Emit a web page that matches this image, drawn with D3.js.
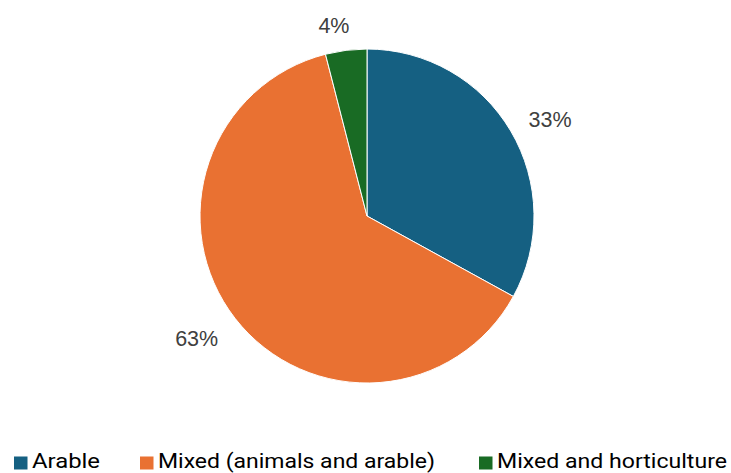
<!DOCTYPE html>
<html>
<head>
<meta charset="utf-8">
<script src="https://cdn.jsdelivr.net/npm/d3@7"></script>
<style>
  html, body { margin: 0; padding: 0; background: #fff; }
  svg { display: block; }
</style>
</head>
<body>
<svg id="chart" width="731" height="473"></svg>
<script>
const categories = ["Arable", "Mixed (animals and arable)", "Mixed and horticulture"];
const values = [33, 63, 4];
const labels = ["33%", "63%", "4%"];
const colors = ["#156082", "#E97132", "#196B24"];

const svg = d3.select("#chart");
const cx = 367, cy = 216, r = 167;

const pie = d3.pie().sort(null).value(d => d.value);
const data = categories.map((c, i) => ({ cat: c, value: values[i], label: labels[i], color: colors[i] }));
const arcs = pie(data);

const arc = d3.arc().innerRadius(0).outerRadius(r);
const labelArc = d3.arc().innerRadius(208).outerRadius(208);
// small layout nudges for label placement (px)
const nudge = [[4, 9.5], [-6, -4], [-7, 16]];

const g = svg.append("g").attr("transform", `translate(${cx},${cy})`);
g.selectAll("path").data(arcs).join("path")
  .attr("d", arc)
  .attr("fill", d => d.data.color)
  .attr("stroke", "#fff")
  .attr("stroke-width", 1);

g.selectAll("text").data(arcs).join("text")
  .attr("transform", (d, i) => {
    const [x, y] = labelArc.centroid(d);
    return `translate(${x + nudge[i][0]},${y + nudge[i][1]})`;
  })
  .attr("text-anchor", "middle")
  .attr("dominant-baseline", "central")
  .attr("font-family", "'Liberation Sans', Arial, sans-serif")
  .attr("font-size", 21.5)
  .attr("fill", "#404040")
  .text(d => d.data.label);

// Legend
const legendX = [14, 140, 479];
const legendW = [68, 277, 230];
const leg = svg.append("g");
data.forEach((d, i) => {
  leg.append("rect")
    .attr("x", legendX[i]).attr("y", 456.5)
    .attr("width", 13.5).attr("height", 13)
    .attr("fill", d.color);
  leg.append("text")
    .attr("x", legendX[i] + 18).attr("y", 468)
    .attr("font-family", "Roboto, 'Noto Sans', sans-serif")
    .attr("font-size", 20.5)
    .attr("textLength", legendW[i])
    .attr("lengthAdjust", "spacingAndGlyphs")
    .attr("fill", "#000")
    .text(d.cat);
});
</script>
</body>
</html>
